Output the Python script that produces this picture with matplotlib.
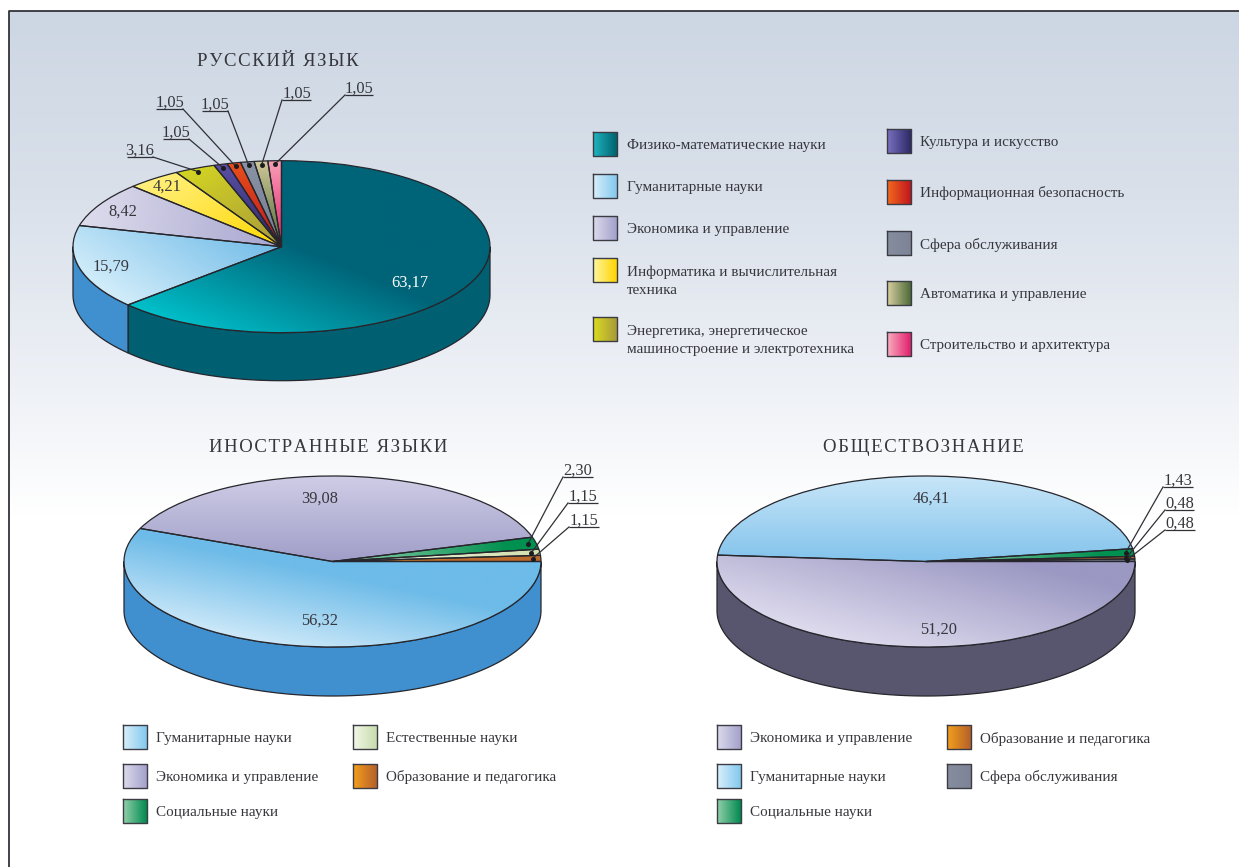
import numpy as np
import matplotlib
matplotlib.use("Agg")
import matplotlib.pyplot as plt
from matplotlib.colors import to_rgb

# ---------- data ----------
ru_cats = ["Физико-математические науки", "Гуманитарные науки", "Экономика и управление",
           "Информатика и вычислительная\nтехника",
           "Энергетика, энергетическое\nмашиностроение и электротехника",
           "Культура и искусство", "Информационная безопасность", "Сфера обслуживания",
           "Автоматика и управление", "Строительство и архитектура"]
ru_vals = [63.17, 15.79, 8.42, 4.21, 3.16, 1.05, 1.05, 1.05, 1.05, 1.05]
ru_text = ["63,17", "15,79", "8,42", "4,21", "3,16", "1,05", "1,05", "1,05", "1,05", "1,05"]

fl_cats = ["Гуманитарные науки", "Образование и педагогика", "Естественные науки",
           "Социальные науки", "Экономика и управление"]
fl_vals = [56.32, 1.15, 1.15, 2.30, 39.08]
fl_text = ["56,32", "1,15", "1,15", "2,30", "39,08"]

ss_cats = ["Экономика и управление", "Сфера обслуживания", "Образование и педагогика",
           "Социальные науки", "Гуманитарные науки"]
ss_vals = [51.20, 0.48, 0.48, 1.43, 46.41]
ss_text = ["51,20", "0,48", "0,48", "1,43", "46,41"]

T = "\u200a"
def tracked(s):
    return T.join(s)
title_ru = tracked("РУССКИЙ") + T + " " + T + tracked("ЯЗЫК")
title_fl = tracked("ИНОСТРАННЫЕ") + T + " " + T + tracked("ЯЗЫКИ")
title_ss = tracked("ОБЩЕСТВОЗНАНИЕ")

# ---------- styles ----------
W, H = 1239, 867
SERIF = "Liberation Serif"
INK = "#36363c"
EDGE = "#26262c"

swatch = {
    "Физико-математические науки": ("#1fb6c0", "#00626f"),
    "Гуманитарные науки": ("#d8f0fb", "#84c8ee"),
    "Экономика и управление": ("#dcdbec", "#a3a1cb"),
    "Информатика и вычислительная\nтехника": ("#fff6a0", "#ffd400"),
    "Энергетика, энергетическое\nмашиностроение и электротехника": ("#dcdc20", "#a89a3a"),
    "Культура и искусство": ("#7a70c0", "#2c2a68"),
    "Информационная безопасность": ("#f56a1c", "#c0151f"),
    "Сфера обслуживания": ("#868d9f", "#7d8497"),
    "Автоматика и управление": ("#d9d0a2", "#4e6a38"),
    "Строительство и архитектура": ("#fbaec0", "#e0206c"),
    "Естественные науки": ("#f2f7e6", "#c8dcae"),
    "Образование и педагогика": ("#f5a01c", "#b4602a"),
    "Социальные науки": ("#93d0aa", "#008a50"),
}

fig = plt.figure(figsize=(W / 100, H / 100), dpi=100)
fig.patch.set_facecolor("white")


def rect(x0, y0, x1, y1):
    return [x0 / W, 1 - y1 / H, (x1 - x0) / W, (y1 - y0) / H]


bg = fig.add_axes([0, 0, 1, 1], zorder=0)
bg.set_xlim(0, W)
bg.set_ylim(H, 0)
bg.axis("off")
ys = np.arange(H)
stops_y = [11, 180, 380, 510, H]
stops_c = np.array([to_rgb(c) for c in ["#cdd7e3", "#d9e0ea", "#eef1f6", "#ffffff", "#ffffff"]])
grad = np.stack([np.interp(ys, stops_y, stops_c[:, i]) for i in range(3)], axis=1)[:, None, :]
bg.imshow(grad, extent=(9, W, H, 11), aspect="auto", origin="upper", interpolation="bilinear")
bg.set_xlim(0, W)
bg.set_ylim(H, 0)
bg.plot([9, 9, W], [H, 10.5, 10.5], color="#33333a", lw=1.3, solid_capstyle="butt")

top = fig.add_axes([0, 0, 1, 1], zorder=5)
top.set_xlim(0, W)
top.set_ylim(H, 0)
top.axis("off")
top.patch.set_alpha(0)


def draw_pie(cx, cy, rx, ry, depth, values, start, counterclock, grads, side):
    pad = 4
    ax = fig.add_axes(rect(cx - rx - pad, cy - ry - pad, cx + rx + pad, cy + ry + depth + pad), zorder=2)
    wedges, _ = ax.pie(values, startangle=start, counterclock=counterclock, radius=1,
                       wedgeprops=dict(edgecolor=EDGE, linewidth=0.9, facecolor="none"),
                       colors=["none"] * len(values), frame=False)
    n = 320
    gx, gy = np.meshgrid(np.linspace(-1.02, 1.02, n), np.linspace(-1.02, 1.02, n))
    for w, g, sc in zip(wedges, grads, side):
        c0, c1, d, mid = g
        th = np.radians(np.linspace(w.theta1, w.theta2, 120))
        px = np.r_[0, np.cos(th)] * rx
        py = np.r_[0, np.sin(th)] * ry
        proj = px * d[0] + py * d[1]
        t = (gx * rx * d[0] + gy * ry * d[1] - proj.min()) / (np.ptp(proj) + 1e-9)
        t = np.clip(t / mid, 0, 1)[..., None]
        img = np.array(to_rgb(c0)) * (1 - t) + np.array(to_rgb(c1)) * t
        im = ax.imshow(img, extent=(-1.02, 1.02, -1.02, 1.02), origin="lower", aspect="auto",
                       interpolation="bilinear", zorder=3)
        im.set_clip_path(w)
        w.set_zorder(4)
        # side wall of the visible, lower part of the wedge
        deg = np.linspace(w.theta1, w.theta2, 500)
        vis = np.sin(np.radians(deg)) <= 0
        if vis.any():
            a = np.radians(deg[vis])
            x = np.cos(a)
            y = np.sin(a)
            ax.fill(np.r_[x, x[::-1]], np.r_[y, y[::-1] - depth / ry], facecolor=sc,
                    edgecolor=EDGE, linewidth=0.9, zorder=2, joinstyle="round")
    ax.set_xlim(-1 - pad / rx, 1 + pad / rx)
    ax.set_ylim(-1 - (depth + pad) / ry, 1 + pad / ry)
    ax.set_aspect("auto")
    ax.axis("off")
    return wedges


def callout(cx, cy, rx, ry, wedge, text, x0, x1, y, side):
    mid = np.radians((wedge.theta1 + wedge.theta2) / 2)
    px = cx + 0.96 * rx * np.cos(mid)
    py = cy - 0.96 * ry * np.sin(mid)
    elbow = x1 if side == "r" else x0
    top.plot([x0, x1], [y, y], color="#303036", lw=0.9, solid_capstyle="butt")
    top.plot([elbow, px], [y, py], color="#303036", lw=0.9)
    top.plot([px], [py], "o", color="#1c1c20", ms=3.6, mew=0)
    top.text((x0 + x1) / 2, y - 2, text, ha="center", va="baseline", family=SERIF, fontsize=11.8, color=INK)


def legend(items):
    for name, sx, sy, tx in items:
        c0, c1 = swatch[name]
        g = np.linspace(np.array(to_rgb(c0)), np.array(to_rgb(c1)), 64)[None, :, :]
        top.imshow(g, extent=(sx, sx + 24, sy + 12, sy - 12), aspect="auto", interpolation="bilinear")
        top.plot([sx, sx + 24, sx + 24, sx, sx], [sy - 12, sy - 12, sy + 12, sy + 12, sy - 12],
                 color="#3c3c44", lw=1.0)
        shift = 9.5 if "\n" in name else 0
        top.text(tx, sy + 1.5 + shift, name, ha="left", va="center", family=SERIF, fontsize=10.9,
                 color=INK, linespacing=1.5)


# ---------- pie 1 ----------
C1 = (281.5, 246.7, 208.5, 86, 48)
dn = (0, -1)
grads1 = [("#00c0ca", "#006478", (0.38, 0.92), 0.52),
          ("#d2edfa", "#72bce8", (0.55, 0.83), 1),
          ("#dedded", "#a8a6cf", (1, -0.1), 1),
          ("#fff080", "#ffd800", (0.5, -0.85), 1),
          ("#d4d622", "#a89a3a", (0.5, -0.85), 1),
          ("#5b4fa6", "#2d2a66", dn, 1),
          ("#e8501a", "#c0151f", dn, 1),
          ("#8a93a6", "#757e91", dn, 1),
          ("#cfc89a", "#4f6a35", dn, 1),
          ("#f9a0b8", "#e0206a", dn, 1)]
side1 = ["#006072", "#4090cf"] + ["#888888"] * 8
w1 = draw_pie(*C1, ru_vals, 90, False, grads1, side1)

# ---------- pie 2 ----------
C2 = (332.5, 561.5, 208.5, 85.5, 49)
grads2 = [("#cde9f9", "#6dbbe8", (0.2, 0.98), 0.6),
          ("#f49b1c", "#bb6a2b", (1, 0), 0.6),
          ("#f2f7e6", "#d2dfae", (1, 0), 1),
          ("#9ad4b0", "#009050", (1, 0), 0.85),
          ("#cfcde6", "#a09ec8", (0, -1), 1)]
side2 = ["#4090cf"] * 5
w2 = draw_pie(*C2, fl_vals, 157.25, True, grads2, side2)

# ---------- pie 3 ----------
C3 = (926, 561.5, 209, 85.5, 49)
grads3 = [("#dedbee", "#9b98c3", (0.25, 0.97), 0.8),
          ("#8a91a3", "#6f7688", (1, 0), 1),
          ("#f49b1c", "#bb6a2b", (1, 0), 0.6),
          ("#9ad4b0", "#009050", (1, 0), 0.85),
          ("#c8e6f8", "#83c3ec", (0, -1), 1)]
side3 = ["#58566f"] * 5
w3 = draw_pie(*C3, ss_vals, 175.7, True, grads3, side3)

# ---------- inner value labels ----------
for s, x, y, c in [(ru_text[0], 410, 283, "white"), (ru_text[1], 111, 267, INK), (ru_text[2], 123, 212, INK),
                   (ru_text[3], 167, 187, INK), (fl_text[4], 320, 499, INK), (fl_text[0], 320, 621, INK),
                   (ss_text[4], 931, 499, INK), (ss_text[0], 939, 630, INK)]:
    top.text(x, y, s, ha="center", va="center", family=SERIF, fontsize=11.8, color=c)

# ---------- callouts ----------
for i, x0, x1, y, s in [(4, 127, 153, 157, "r"), (5, 163, 189, 139, "r"), (6, 156, 183, 109, "r"),
                        (7, 202, 228, 111, "r"), (8, 282, 311, 100, "l"), (9, 345, 373, 95, "l")]:
    callout(C1[0], C1[1], C1[2], C1[3], w1[i], ru_text[i], x0, x1, y, s)
for i, x0, x1, y, s in [(3, 563, 593, 477, "l"), (2, 568, 598, 503, "l"), (1, 569, 599, 527, "l")]:
    callout(C2[0], C2[1], C2[2], C2[3], w2[i], fl_text[i], x0, x1, y, s)
for i, x0, x1, y, s in [(3, 1163, 1193, 487, "l"), (2, 1165, 1194, 510, "l"), (1, 1165, 1195, 530, "l")]:
    callout(C3[0], C3[1], C3[2], C3[3], w3[i], ss_text[i], x0, x1, y, s)

# ---------- titles ----------
for s, x, y in [(title_ru, 278, 62), (title_fl, 328, 448), (title_ss, 923, 448)]:
    top.text(x, y, s, ha="center", va="center", family=SERIF, fontsize=13.5, color=INK)

# ---------- legends ----------
legend([(ru_cats[0], 593, 144, 627), (ru_cats[1], 593, 186, 627), (ru_cats[2], 593, 228, 627),
        (ru_cats[3], 593, 270, 627), (ru_cats[4], 593, 329, 627),
        (ru_cats[5], 887, 141, 920), (ru_cats[6], 887, 192, 920), (ru_cats[7], 887, 243, 920),
        (ru_cats[8], 887, 293, 920), (ru_cats[9], 887, 344, 920)])
legend([("Гуманитарные науки", 123, 737, 156), ("Экономика и управление", 123, 776, 156),
        ("Социальные науки", 123, 811, 156), ("Естественные науки", 353, 737, 386),
        ("Образование и педагогика", 353, 776, 386)])
legend([("Экономика и управление", 717, 737, 750), ("Гуманитарные науки", 717, 776, 750),
        ("Социальные науки", 717, 811, 750), ("Образование и педагогика", 947, 737, 980),
        ("Сфера обслуживания", 947, 776, 980)])
top.set_xlim(0, W)
top.set_ylim(H, 0)

fig.savefig("out.png", dpi=100, facecolor="white")
